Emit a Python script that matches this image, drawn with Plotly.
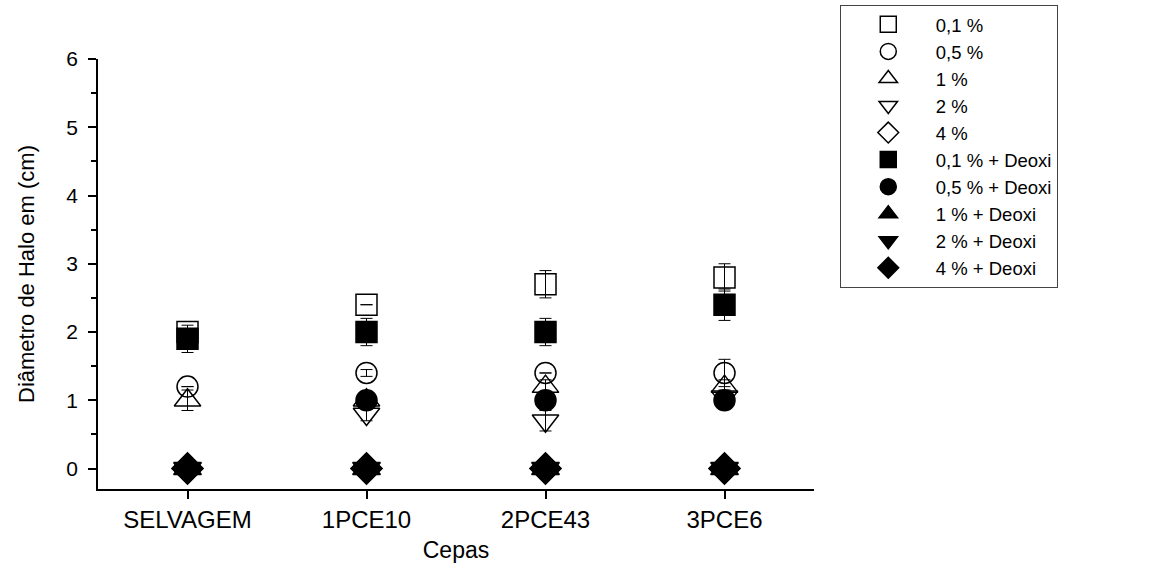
import plotly.graph_objects as go

# Strains on the x axis
cepas = ["SELVAGEM", "1PCE10", "2PCE43", "3PCE6"]

# Halo diameter (cm) for each treatment, and its error
sq_open = [2.0, 2.4, 2.7, 2.8]
sq_open_err = [0.05, 0.0, 0.2, 0.2]
circ_open = [1.2, 1.4, 1.4, 1.4]
circ_open_err = [0.0, 0.05, 0.0, 0.2]
tri_open = [1.0, 1.0, 1.2, 1.2]
tri_open_err = [0.15, 0.1, 0.1, 0.1]
tridown_open = [0.0, 0.8, 0.7, 1.05]
tridown_open_err = [0.0, 0.1, 0.15, 0.1]
dia_open = [0.0, 0.0, 0.0, 0.0]
sq_fill = [1.9, 2.0, 2.0, 2.4]
sq_fill_err = [0.2, 0.2, 0.2, 0.23]
circ_fill = [0.0, 1.0, 1.0, 1.0]
circ_fill_err = [0.0, 0.1, 0.1, 0.05]
tri_fill = [0.0, 0.0, 0.0, 0.0]
tridown_fill = [0.0, 0.0, 0.0, 0.0]
dia_fill = [0.0, 0.0, 0.0, 0.0]

series = [
    ("0,1 %", sq_open, sq_open_err, "square-open", 21),
    ("0,5 %", circ_open, circ_open_err, "circle-open", 21),
    ("1 %", tri_open, tri_open_err, "triangle-up-open", 23),
    ("2 %", tridown_open, tridown_open_err, "triangle-down-open", 23),
    ("4 %", dia_open, None, "diamond-open", 23),
    ("0,1 % + Deoxi", sq_fill, sq_fill_err, "square", 21),
    ("0,5 % + Deoxi", circ_fill, circ_fill_err, "circle", 21),
    ("1 % + Deoxi", tri_fill, None, "triangle-up", 24),
    ("2 % + Deoxi", tridown_fill, None, "triangle-down", 24),
    ("4 % + Deoxi", dia_fill, None, "diamond", 24),
]

FONT = "Liberation Sans, Arial, sans-serif"

fig = go.Figure()
for name, vals, err, sym, size in series:
    kw = {}
    if err is not None:
        kw["error_y"] = dict(type="data", array=err, visible=True,
                             color="black", thickness=1, width=6)
    fig.add_trace(go.Scatter(
        x=cepas, y=vals, name=name, mode="markers",
        marker=dict(symbol=sym, size=size, color="black",
                    line=dict(color="black", width=1.5)),
        **kw,
    ))

fig.update_layout(
    width=1162, height=567,
    paper_bgcolor="white", plot_bgcolor="white",
    margin=dict(l=98, r=348, t=59, b=78, autoexpand=False),
    font=dict(family=FONT, color="black", size=20),
    legend=dict(
        x=1.036, y=1.126, xanchor="left", yanchor="top",
        bgcolor="white", bordercolor="#444", borderwidth=1,
        font=dict(family=FONT, size=18.5), tracegroupgap=0,
        itemwidth=85, maxheight=1,
    ),
    xaxis=dict(
        type="category", range=[-0.5, 3.5],
        showline=True, linecolor="black", linewidth=1.5,
        ticks="outside", ticklen=8, tickwidth=1.5, tickcolor="black",
        showgrid=False, zeroline=False,
        tickfont=dict(size=24),
        title=dict(text="Cepas", font=dict(size=23), standoff=10),
    ),
    yaxis=dict(
        range=[-0.3, 6], tickvals=[0, 1, 2, 3, 4, 5, 6],
        showline=True, linecolor="black", linewidth=1.5,
        ticks="outside", ticklen=8, tickwidth=1.5, tickcolor="black",
        ticklabelstandoff=6,
        minor=dict(tickvals=[0.5, 1.5, 2.5, 3.5, 4.5, 5.5],
                   ticks="outside", ticklen=5, tickwidth=1.5,
                   tickcolor="black", showgrid=False),
        showgrid=False, zeroline=False,
        tickfont=dict(size=21),
        title=dict(text="Diâmetro de Halo em (cm)", font=dict(size=22),
                   standoff=26),
    ),
)

fig.write_html("out.html")
